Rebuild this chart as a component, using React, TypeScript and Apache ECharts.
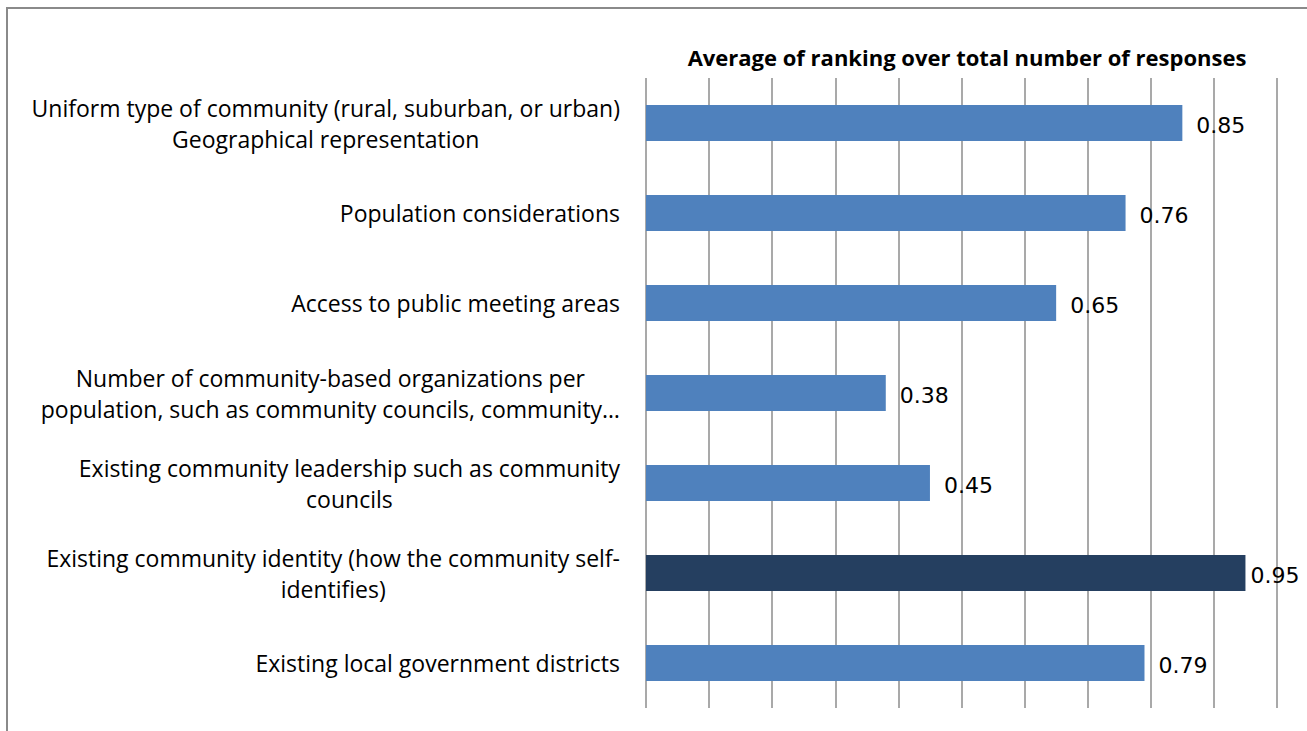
import React, { useEffect, useRef } from "react";
import * as echarts from "echarts";

const title = "Average of ranking over total number of responses";
const categories = [
  "Uniform type of community (rural, suburban, or urban)\nGeographical representation",
  "Population considerations",
  "Access to public meeting areas",
  "Number of community-based organizations per\npopulation, such as community councils, community…",
  "Existing community leadership such as community\ncouncils",
  "Existing community identity (how the community self-\nidentifies)",
  "Existing local government districts",
];
const values = [0.85, 0.76, 0.65, 0.38, 0.45, 0.95, 0.79];
const highlighted = [false, false, false, false, false, true, false];

const BLUE = "#4F81BD";
const NAVY = "#253F60";
const LABEL_FONT = "'Open Sans', sans-serif";

export default function App() {
  const ref = useRef<HTMLDivElement>(null);
  useEffect(() => {
    if (!ref.current) return;
    const chart = echarts.init(ref.current, null, { renderer: "svg" });
    chart.setOption({
      animation: false,
      backgroundColor: "#ffffff",
      title: {
        text: title,
        left: 962,
        top: 41,
        textAlign: "center",
        textStyle: { fontFamily: LABEL_FONT, fontWeight: "bold", fontSize: 22, color: "#000" },
      },
      graphic: [
        {
          type: "rect",
          shape: { x: 7, y: 8, width: 1320, height: 760 },
          style: { fill: "none", stroke: "#8a8a8a", lineWidth: 2 },
          silent: true,
        },
      ],
      grid: { left: 646, right: 30, top: 78, bottom: 23, containLabel: false },
      xAxis: {
        type: "value",
        min: 0,
        max: 1,
        interval: 0.1,
        axisLabel: { show: false },
        axisLine: { show: false },
        axisTick: { show: false },
        splitLine: { show: true, lineStyle: { color: "#8c8c8c", width: 1.5 } },
      },
      yAxis: {
        type: "category",
        inverse: true,
        data: categories,
        axisLine: { show: false },
        axisTick: { show: false },
        axisLabel: {
          margin: 26,
          formatter: (v: string) => v.split("\n").map((l) => `{c|${l}}`).join("\n"),
          rich: {
            c: {
              align: "center",
              fontFamily: LABEL_FONT,
              fontSize: 23,
              lineHeight: 31,
              color: "#000",
            },
          },
        },
      },
      series: [
        {
          type: "bar",
          barWidth: 36,
          data: values.map((v, i) => ({
            value: v,
            itemStyle: { color: highlighted[i] ? NAVY : BLUE },
            label: highlighted[i] ? { distance: 5 } : undefined,
          })),
          label: {
            show: true,
            position: "right",
            distance: 14,
            offset: [0, 2],
            fontFamily: "'DejaVu Sans', sans-serif",
            fontSize: 22,
            color: "#000",
            formatter: (p: any) => p.value.toFixed(2),
          },
        },
      ],
    });
    return () => chart.dispose();
  }, []);
  return (
    <div
      ref={ref}
      style={{ position: "absolute", left: 0, top: 0, width: 1307, height: 731 }}
    />
  );
}
